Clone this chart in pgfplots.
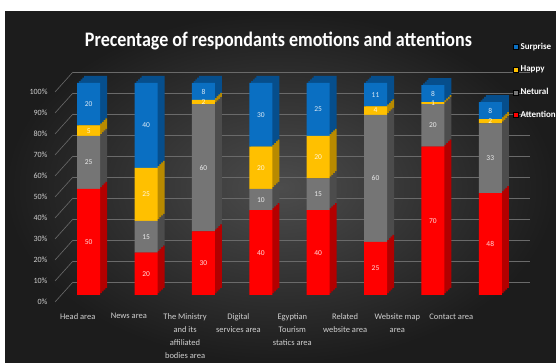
\documentclass[border=0pt]{standalone}
\usepackage{pgfplots}
\pgfplotsset{compat=1.18}
\usepackage{pgfplotstable}
\usepackage{fontspec}
\setmainfont{Carlito}
\usepackage{graphicx}

\definecolor{cRed}{HTML}{FF0000}
\definecolor{cRedD}{HTML}{B30000}
\definecolor{cGray}{HTML}{757575}
\definecolor{cGrayD}{HTML}{4C4C4C}
\definecolor{cYel}{HTML}{FFC000}
\definecolor{cYelD}{HTML}{B88A00}
\definecolor{cBlue}{HTML}{0A6FC2}
\definecolor{cBlueD}{HTML}{064E8C}
\definecolor{bgIn}{HTML}{4C4C4C}
\definecolor{bgOut}{HTML}{1C1C1C}
\definecolor{gridc}{HTML}{6A6A6A}
\definecolor{txt}{HTML}{D0D0D0}

\pgfplotstableread{
x att neu hap sur
0 50 25 5 20
1 20 15 25 40
2 30 60 2 8
3 40 10 20 30
4 40 15 20 25
5 25 60 4 11
6 70 20 1 8
7 48 33 2 8
}\datatable

\pgfplotsset{
  base/.style={
    at={(60pt,68pt)}, anchor=south west, scale only axis,
    width=467pt, height=212pt,
    xmin=-0.5, xmax=7.64, ymin=0, ymax=100,
  },
  barsax/.style={base, hide axis, ybar stacked, bar width=23pt},
  lbl/.style={draw=none, nodes near coords, point meta=explicit symbolic,
    every node near coord/.style={anchor=center, text=white, text opacity=0.85,
      font=\fontsize{7.5}{8}\selectfont}},
}

\begin{document}
\begin{tikzpicture}
\useasboundingbox (0,0) rectangle (556pt,363pt);
\fill[white] (0,0) rectangle (556pt,363pt);
\shade[inner color=bgIn, outer color=bgOut] (5pt,0) rectangle (556pt,351pt);
\node[anchor=base, text=white, inner sep=0pt] at (278.5pt,316pt)
  {\resizebox{387pt}{14.5pt}{\bfseries Precentage of respondants emotions and attentions}};

% back wall: grid, y ticks and legend
\begin{axis}[
  at={(73pt,81pt)}, anchor=south west, scale only axis,
  width=457pt, height=210pt,
  xmin=0, xmax=1, ymin=0, ymax=100,
  axis line style={draw=none},
  ymajorgrids, grid style={gridc, line width=0.6pt},
  tick style={draw=none},
  xtick=\empty,
  ytick={0,10,...,100},
  yticklabel={\pgfmathprintnumber{\tick}\%},
  /pgf/number format/assume math mode=true,
  yticklabel style={text=txt, font=\fontsize{8}{9}\selectfont, xshift=-22pt, yshift=-20pt},
  clip=false,
  legend cell align=left,
  legend style={at={(1,1)}, anchor=north west, xshift=-17pt, yshift=31pt,
    draw=none, fill=none, text=white, font=\bfseries\fontsize{9}{10}\selectfont,
    row sep=11pt, inner sep=0pt},
  legend image code/.code={\fill[#1] (0pt,-2.5pt) rectangle (5pt,2.5pt);},
]
\pgfplotsinvokeforeach{0,10,...,100}{
  \draw[gridc, line width=0.6pt] ([xshift=-18pt,yshift=-20pt]axis cs:0,#1) -- (axis cs:0,#1);
}
\addlegendimage{fill=cBlue}
\addlegendentry{Surprise}
\addlegendimage{fill=cYel}
\addlegendentry{Happy}
\addlegendimage{fill=cGray}
\addlegendentry{Netural}
\addlegendimage{fill=cRed}
\addlegendentry{Attention}
\end{axis}

% category labels
\begin{axis}[base,
  axis line style={draw=none}, tick style={draw=none},
  ytick=\empty,
  xtick={-0.19,0.70,1.68,2.61,3.55,4.47,5.38,6.32},
  xticklabels={{Head area},{News area},{The Ministry\\and its\\affiliated\\bodies area},{Digital\\services area},{Egyptian\\Tourism\\statics area},{Related\\website area},{Website map\\area},{Contact area}},
  xticklabel style={align=center, text=txt, font=\fontsize{8.5}{13}\selectfont, anchor=north, yshift=-15pt},
]
\end{axis}

% extrusion (3D depth) copies
\foreach \s in {7,5.25,3.5,1.75}{
\begin{axis}[barsax, xshift=\s pt, yshift=\s pt]
\addplot[fill=cRedD, draw=none] table[x=x,y=att]{\datatable};
\addplot[fill=cGrayD, draw=none] table[x=x,y=neu]{\datatable};
\addplot[fill=cYelD, draw=none] table[x=x,y=hap]{\datatable};
\addplot[fill=cBlueD, draw=none] table[x=x,y=sur]{\datatable};
\end{axis}
}

% front faces
\begin{axis}[barsax]
\addplot[fill=cRed, draw=none] table[x=x,y=att]{\datatable};
\addplot[fill=cGray, draw=none] table[x=x,y=neu]{\datatable};
\addplot[fill=cYel, draw=none] table[x=x,y=hap]{\datatable};
\addplot[fill=cBlue, draw=none] table[x=x,y=sur]{\datatable};
\end{axis}

% data labels
\begin{axis}[base, hide axis]
\addplot[lbl] table[x=x, y expr=\thisrow{att}/2, meta=att]{\datatable};
\addplot[lbl] table[x=x, y expr=\thisrow{att}+\thisrow{neu}/2, meta=neu]{\datatable};
\addplot[lbl] table[x=x, y expr=\thisrow{att}+\thisrow{neu}+\thisrow{hap}/2, meta=hap]{\datatable};
\addplot[lbl] table[x=x, y expr=\thisrow{att}+\thisrow{neu}+\thisrow{hap}+\thisrow{sur}/2, meta=sur]{\datatable};
\end{axis}
\end{tikzpicture}
\end{document}
